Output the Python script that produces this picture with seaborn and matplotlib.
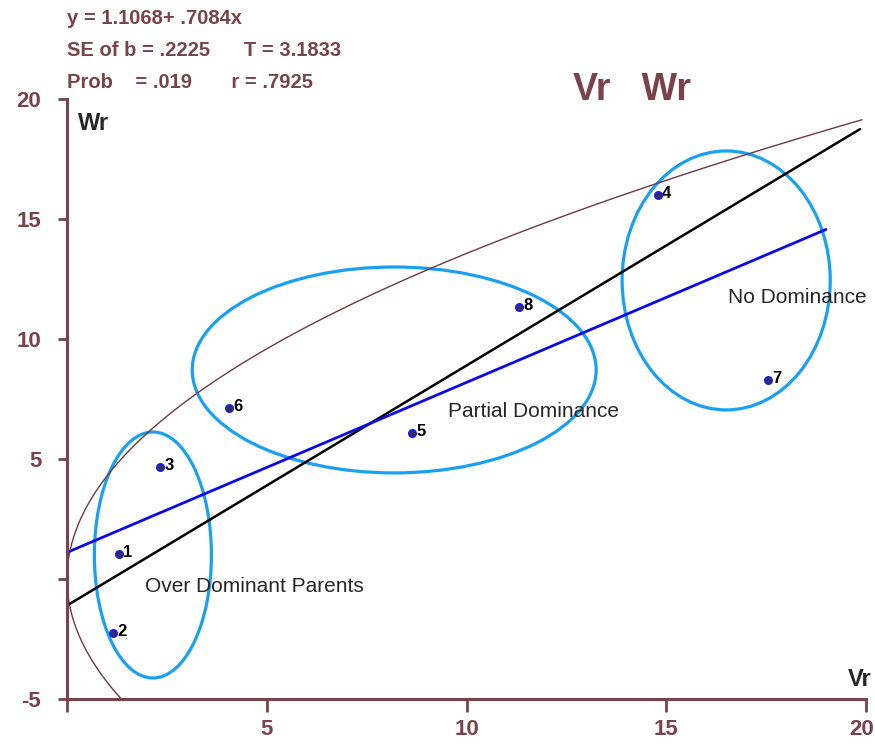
import numpy as np
import pandas as pd
import matplotlib
matplotlib.use("Agg")
import matplotlib.pyplot as plt
import matplotlib.transforms as mtransforms
import seaborn as sns
from matplotlib.patches import Ellipse

parentes = ["1", "2", "3", "4", "5", "6", "7", "8"]
vr = [1.30, 1.15, 2.33, 14.79, 8.64, 4.06, 17.55, 11.31]
wr = [1.04, -2.25, 4.67, 16.00, 6.08, 7.13, 8.29, 11.33]
intercepto = 1.1068
inclinacao = 0.7084
vp = 18.4  # variancia dos parentais (parabola limite)

estatisticas = ["y = 1.1068+ .7084x",
                "SE of b = .2225      T = 3.1833",
                "Prob    = .019       r = .7925"]
grupos = ["Over Dominant Parents", "Partial Dominance", "No Dominance"]

marrom = "#7a434b"
azul_claro = "#1aa0f0"

sns.set_style("white")
plt.rcParams["font.family"] = ["Liberation Sans", "DejaVu Sans"]

df = pd.DataFrame({"Vr": vr, "Wr": wr, "parente": parentes})

fig = plt.figure(figsize=(8.75, 7.53), dpi=100)
ax = fig.add_axes([67 / 875, 54 / 753, 799 / 875, 600 / 753])

# parabola limite Wr^2 = Vr * Vp
y_par = np.linspace(-5, np.sqrt(19.9 * vp), 300)
ax.plot(y_par ** 2 / vp, y_par, color="#6e3a42", lw=1.0)

# linha de inclinacao unitaria passando pelas medias
a = np.mean(wr) - np.mean(vr)
xs = np.array([0, 19.85])
ax.plot(xs, xs + a, color="black", lw=1.8)

# regressao
xr = np.array([0, 19.0])
ax.plot(xr, intercepto + inclinacao * xr, color="#0a0ae6", lw=2.0)

# elipses dos grupos
elipses = [((2.15, 1.0), 2.93, 10.25), ((8.19, 8.71), 10.11, 8.58), ((16.5, 12.44), 5.21, 10.79)]
for centro, w, h in elipses:
    ax.add_patch(Ellipse(centro, w, h, fill=False, edgecolor=azul_claro, lw=2.3))

sns.scatterplot(data=df, x="Vr", y="Wr", ax=ax, s=28, color="#33334d",
                edgecolor="#1a1aff", linewidth=1.2, zorder=5, legend=False)
for _, r in df.iterrows():
    ax.annotate(r["parente"], (r["Vr"], r["Wr"]), xytext=(3, 1), textcoords="offset points",
                fontsize=12, fontweight="bold", va="center", color="black")

ax.text(1.95, -0.33, grupos[0], fontsize=15, va="center")
ax.text(9.54, 6.96, grupos[1], fontsize=15, va="center")
ax.text(16.55, 11.71, grupos[2], fontsize=15, va="center")

ax.set_xlim(0, 20)
ax.set_ylim(-5, 20)
ax.set_xticks([0, 5, 10, 15, 20])
ax.set_xticklabels(["", "5", "10", "15", "20"])
ax.set_yticks([-5, 0, 5, 10, 15, 20])
ax.set_yticklabels(["-5", "", "5", "10", "15", "20"])
ax.tick_params(axis="x", bottom=True, direction="out", length=9.5, width=2, color=marrom,
               labelcolor=marrom, labelsize=16, pad=5)
ax.tick_params(axis="y", left=True, direction="out", length=6.5, width=2, color=marrom,
               labelcolor=marrom, labelsize=16, pad=12)
for lbl in ax.get_xticklabels() + ax.get_yticklabels():
    lbl.set_fontweight("bold")
# o ultimo rotulo (20) fica colado na borda, puxar um pouco para a esquerda
ult = ax.get_xticklabels()[-1]
ult.set_transform(ult.get_transform() + mtransforms.ScaledTranslation(-4 / 100, 0, fig.dpi_scale_trans))
ax.set_xlabel("")
ax.set_ylabel("")
for lado in ["top", "right"]:
    ax.spines[lado].set_visible(False)
for lado in ["left", "bottom"]:
    ax.spines[lado].set_color(marrom)
    ax.spines[lado].set_linewidth(2.2)

ax.text(0.28, 19.0, "Wr", fontsize=17, fontweight="bold", va="center")
ax.text(19.55, -4.2, "Vr", fontsize=17, fontweight="bold", va="center")

for i, linha in enumerate(estatisticas):
    fig.text(67 / 875, 1 - (18 + i * 32.5) / 753, linha, color=marrom, fontsize=14.5,
             fontweight="bold", va="center")
fig.text(573 / 875, 1 - 90 / 753, "Vr   Wr", color=marrom, fontsize=27,
         fontweight="bold", va="center")

plt.savefig("out.png", dpi=100)
